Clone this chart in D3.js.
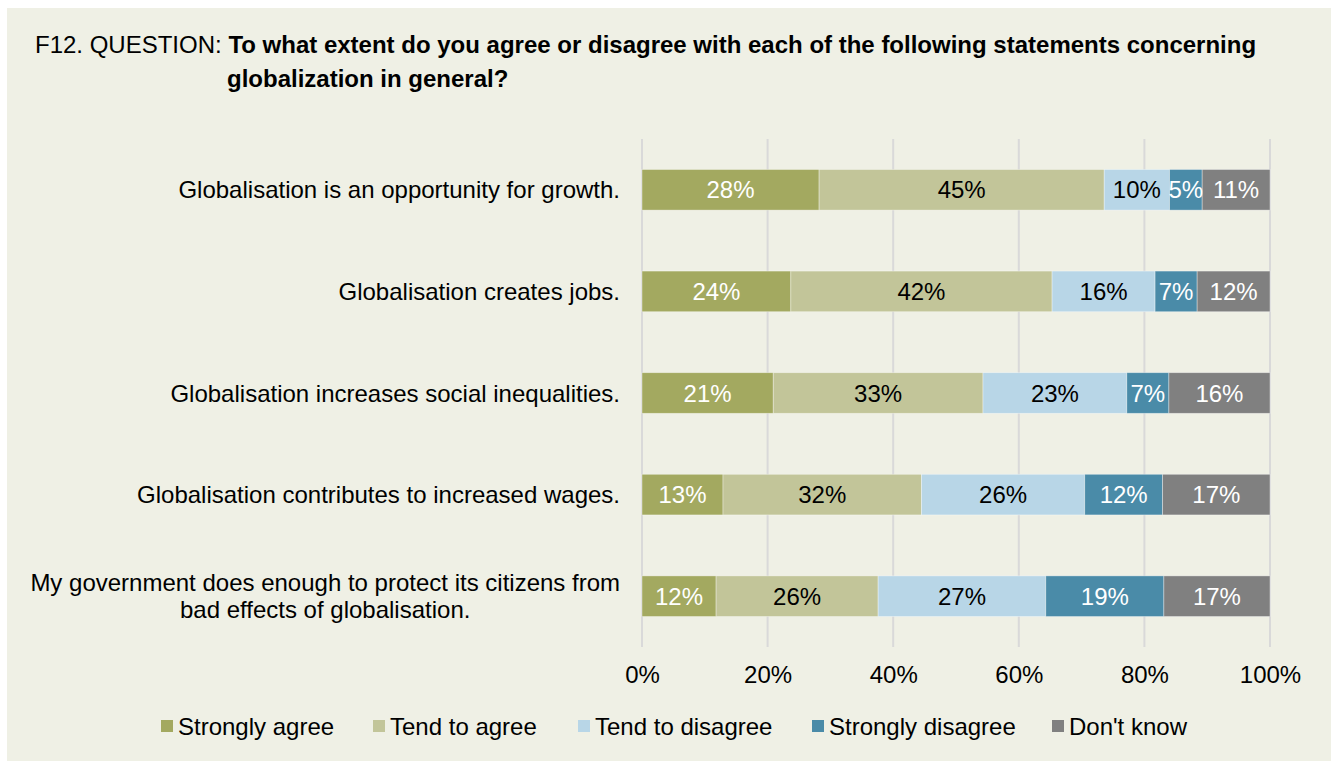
<!DOCTYPE html>
<html>
<head>
<meta charset="utf-8">
<script src="https://cdn.jsdelivr.net/npm/d3@7"></script>
<style>
  html, body { margin: 0; padding: 0; background: #ffffff; }
  svg { display: block; font-family: "Liberation Sans", Arial, sans-serif; }
</style>
</head>
<body>
<svg id="chart" width="1336" height="761"></svg>
<script>
// Statements (one bar each)
const statements = [
  "Globalisation is an opportunity for growth.",
  "Globalisation creates jobs.",
  "Globalisation increases social inequalities.",
  "Globalisation contributes to increased wages.",
  "My government does enough to protect its citizens from|bad effects of globalisation."
];

// Answer categories (stack order)
const answers = ["Strongly agree", "Tend to agree", "Tend to disagree", "Strongly disagree", "Don't know"];

// Share of respondents (%) per statement, one array per answer
const stronglyAgree    = [28.2, 23.7, 20.9, 12.9, 11.8];
const tendToAgree      = [45.4, 41.6, 33.4, 31.6, 25.8];
const tendToDisagree   = [10.4, 16.4, 22.9, 26.0, 26.7];
const stronglyDisagree = [5.2, 6.7, 6.7, 12.4, 18.8];
const dontKnow         = [10.8, 11.6, 16.1, 17.1, 16.9];

const xTicks = [0, 20, 40, 60, 80, 100];

const colors = ["#a3a960", "#c2c599", "#b8d6e7", "#4a8ba8", "#808080"];
const labelColors = ["#ffffff", "#000000", "#000000", "#ffffff", "#ffffff"];

const FONT = 24;

const seriesValues = [stronglyAgree, tendToAgree, tendToDisagree, stronglyDisagree, dontKnow];
const rows = statements.map((s, i) => {
  const r = { statement: s };
  answers.forEach((a, j) => { r[a] = seriesValues[j][i]; });
  return r;
});

const svg = d3.select("#chart");

// panel background
svg.append("rect")
  .attr("x", 7).attr("y", 8).attr("width", 1324).attr("height", 760)
  .attr("fill", "#eff0e5");

// title
const title = svg.append("text")
  .attr("font-size", FONT).attr("fill", "#000");
title.append("tspan").attr("x", 35).attr("y", 53).text("F12. QUESTION: ");
title.append("tspan").attr("font-weight", "bold")
  .text("To what extent do you agree or disagree with each of the following statements concerning");
svg.append("text")
  .attr("x", 227).attr("y", 87)
  .attr("font-size", FONT).attr("font-weight", "bold").attr("fill", "#000")
  .text("globalization in general?");

// scales
const x = d3.scaleLinear().domain([0, 100]).range([642, 1270]);
const y = d3.scaleBand().domain(statements).range([139, 647])
  .paddingInner(0.6).paddingOuter(0.3);

// vertical gridlines
svg.append("g").selectAll("line")
  .data(xTicks).join("line")
  .attr("x1", d => x(d)).attr("x2", d => x(d))
  .attr("y1", 139).attr("y2", 647)
  .attr("stroke", "#d9d9d9").attr("stroke-width", 2);

// x axis tick labels
const xAxis = d3.axisBottom(x).tickValues(xTicks).tickFormat(d => d + "%").tickSize(0).tickPadding(0);
const gx = svg.append("g").attr("transform", "translate(0,666)").call(xAxis);
gx.select(".domain").remove();
gx.selectAll("text").attr("font-size", FONT).attr("fill", "#000")
  .attr("font-family", "Liberation Sans, Arial, sans-serif");

// stacked bars
const stack = d3.stack().keys(answers);
const series = stack(rows);

const gs = svg.append("g").selectAll("g")
  .data(series).join("g")
  .attr("fill", (d, i) => colors[i]);

gs.selectAll("rect")
  .data(d => d.map(v => ({ v, key: d.key })))
  .join("rect")
  .attr("x", d => x(d.v[0]))
  .attr("y", d => y(d.v.data.statement))
  .attr("width", d => x(d.v[1]) - x(d.v[0]))
  .attr("height", y.bandwidth())
  .attr("stroke", "rgba(255,255,255,0.45)")
  .attr("stroke-width", 0.8);

// value labels
series.forEach((s, i) => {
  svg.append("g").selectAll("text")
    .data(s).join("text")
    .attr("x", d => (x(d[0]) + x(d[1])) / 2)
    .attr("y", d => y(d.data.statement) + y.bandwidth() / 2)
    .attr("dy", "0.36em")
    .attr("text-anchor", "middle")
    .attr("font-size", FONT)
    .attr("fill", labelColors[i])
    .text(d => Math.round(d[1] - d[0]) + "%");
});

// category labels (right aligned; wrapped labels centred as a block)
const labelRight = 620;
statements.forEach(s => {
  const lines = s.split("|");
  const cy = y(s) + y.bandwidth() / 2;
  if (lines.length === 1) {
    svg.append("text")
      .attr("x", labelRight).attr("y", cy).attr("dy", "0.36em")
      .attr("text-anchor", "end").attr("font-size", FONT).attr("fill", "#000")
      .text(s);
  } else {
    const lh = 27;
    const t = svg.append("text").attr("font-size", FONT).attr("fill", "#000")
      .attr("text-anchor", "middle");
    const tspans = lines.map((ln, k) => t.append("tspan")
      .attr("y", cy + (k - (lines.length - 1) / 2) * lh)
      .attr("dy", "0.36em").text(ln));
    const w = d3.max(tspans, ts => ts.node().getComputedTextLength());
    tspans.forEach(ts => ts.attr("x", labelRight - w / 2));
  }
});

// legend
const legendX = [161, 373, 578, 812, 1052];
const lg = svg.append("g").selectAll("g")
  .data(answers).join("g")
  .attr("transform", (d, i) => `translate(${legendX[i]},726)`);
lg.append("rect")
  .attr("x", 0).attr("y", -6).attr("width", 12).attr("height", 12)
  .attr("fill", (d, i) => colors[i]);
lg.append("text")
  .attr("x", 17).attr("y", 0).attr("dy", "0.36em")
  .attr("font-size", FONT).attr("fill", "#000")
  .text(d => d);
</script>
</body>
</html>
